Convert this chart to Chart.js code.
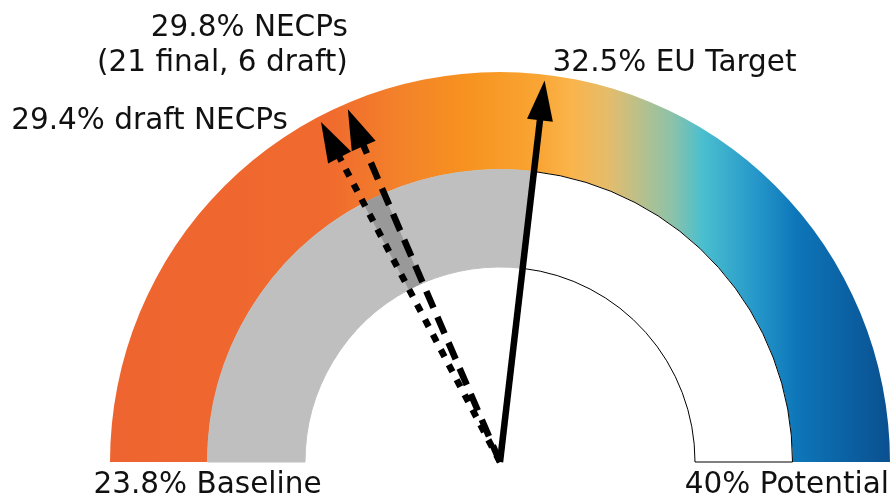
<!DOCTYPE html>
<html>
<head>
<meta charset="utf-8">
<title>Renewable energy share gauge</title>
<script src="https://cdn.jsdelivr.net/npm/chart.js@4.4.1/dist/chart.umd.min.js"></script>
<style>
  html, body { margin: 0; padding: 0; background: #ffffff; }
  canvas { display: block; }
</style>
</head>
<body>
<canvas id="gauge" width="895" height="498"></canvas>
<script>
// Gauge range: baseline share up to the full potential (%)
const scaleMin = 23.8;
const scaleMax = 40;

// Pointers: draft NECPs, NECPs (21 final, 6 draft), EU target (%)
const markerValues = [29.4, 29.8, 32.5];
const markerLabels = [
  ['29.4% draft NECPs'],
  ['29.8% NECPs', '(21 final, 6 draft)'],
  ['32.5% EU Target']
];
const endLabels = ['23.8% Baseline', '40% Potential'];

// Outer ring spans the whole range; inner ring shows progress up to the target
const outerRing = [scaleMax - scaleMin];
const innerRing = [
  markerValues[0] - scaleMin,
  markerValues[1] - markerValues[0],
  markerValues[2] - markerValues[1],
  scaleMax - markerValues[2]
];

// ---- styling ----
const innerColors = ['#bfbfbf', '#999999', '#bfbfbf', '#ffffff'];
const innerBorders = ['#bfbfbf', '#999999', '#bfbfbf', '#000000'];
const gradientStops = [
  [0.00, '#ee6430'], [0.28, '#f06a2e'], [0.37, '#f3812a'], [0.46, '#f7931f'],
  [0.55, '#f9a534'], [0.59, '#fbb44a'], [0.64, '#e4bc6c'], [0.68, '#b8c08c'],
  [0.72, '#8dc2a8'], [0.76, '#4abfcf'], [0.83, '#2596c9'], [0.88, '#0d76b9'],
  [1.00, '#0a5090']
];
const arrowDashes = [[8, 9], [18, 10], []];
const labelFont = '29.5px "DejaVu Sans", Verdana, sans-serif';
const labelColor = '#111111';

function ringGradient(context) {
  const chart = context.chart;
  const area = chart.chartArea;
  if (!area) return '#ee6430';
  const g = chart.ctx.createLinearGradient(area.left, 0, area.right, 0);
  gradientStops.forEach(([p, c]) => g.addColorStop(p, c));
  return g;
}

function drawArrow(ctx, x0, y0, ang, len, dash) {
  const cos = Math.cos(ang), sin = Math.sin(ang);
  const tx = x0 + len * cos, ty = y0 + len * sin;
  const headLen = 40, headHalf = 13;
  const bx = tx - headLen * cos, by = ty - headLen * sin;
  ctx.save();
  ctx.strokeStyle = '#000';
  ctx.fillStyle = '#000';
  ctx.lineWidth = 6.5;
  ctx.lineCap = 'butt';
  ctx.setLineDash(dash);
  ctx.beginPath();
  ctx.moveTo(x0, y0);
  ctx.lineTo(bx + 2 * cos, by + 2 * sin);
  ctx.stroke();
  ctx.setLineDash([]);
  const px = -sin, py = cos;
  ctx.beginPath();
  ctx.moveTo(tx, ty);
  ctx.lineTo(bx + px * headHalf, by + py * headHalf);
  ctx.lineTo(bx - px * headHalf, by - py * headHalf);
  ctx.closePath();
  ctx.fill();
  ctx.restore();
  return { x: tx, y: ty };
}

// Arrows and labels, positioned from the ring geometry the doughnut computed
const pointerPlugin = {
  id: 'pointers',
  afterDatasetsDraw(chart) {
    const ctx = chart.ctx;
    const arc = chart.getDatasetMeta(0).data[0];
    const cx = arc.x, cy = arc.y;
    const R = arc.outerRadius, rBand = arc.innerRadius;
    const a0 = arc.startAngle, a1 = arc.endAngle;
    const angleOf = v => a0 + (v - scaleMin) / (scaleMax - scaleMin) * (a1 - a0);
    const len = R * 0.985;

    const tips = markerValues.map((v, i) => drawArrow(ctx, cx, cy, angleOf(v), len, arrowDashes[i]));

    ctx.save();
    ctx.font = labelFont;
    ctx.fillStyle = labelColor;
    ctx.textBaseline = 'alphabetic';

    // draft NECPs: left of its pointer
    ctx.textAlign = 'right';
    ctx.fillText(markerLabels[0][0], tips[0].x - 33, tips[0].y + 7);
    // NECPs: two lines above its pointer
    ctx.fillText(markerLabels[1][0], tips[1].x, tips[1].y - 73);
    ctx.fillText(markerLabels[1][1], tips[1].x, tips[1].y - 38);
    // EU target: right of its pointer
    ctx.textAlign = 'left';
    ctx.fillText(markerLabels[2][0], tips[2].x + 8, tips[2].y - 9);

    // range ends under the rings
    ctx.textAlign = 'center';
    ctx.fillText(endLabels[0], cx + rBand * Math.cos(a0), cy + 31);
    ctx.textAlign = 'right';
    ctx.fillText(endLabels[1], cx + R * Math.cos(a1) - 1, cy + 31);
    ctx.restore();
  }
};

new Chart(document.getElementById('gauge'), {
  type: 'doughnut',
  data: {
    datasets: [
      {
        data: outerRing,
        backgroundColor: ringGradient,
        borderWidth: 0
      },
      {
        data: innerRing,
        backgroundColor: innerColors,
        borderColor: innerBorders,
        borderWidth: 1,
        order: -1
      }
    ]
  },
  options: {
    responsive: false,
    devicePixelRatio: 1,
    animation: false,
    events: [],
    rotation: -90,
    circumference: 180,
    cutout: '50%',
    layout: { padding: { left: 110, right: 5, top: 72, bottom: 36 } },
    plugins: {
      legend: { display: false },
      tooltip: { enabled: false }
    }
  },
  plugins: [pointerPlugin]
});
</script>
</body>
</html>
